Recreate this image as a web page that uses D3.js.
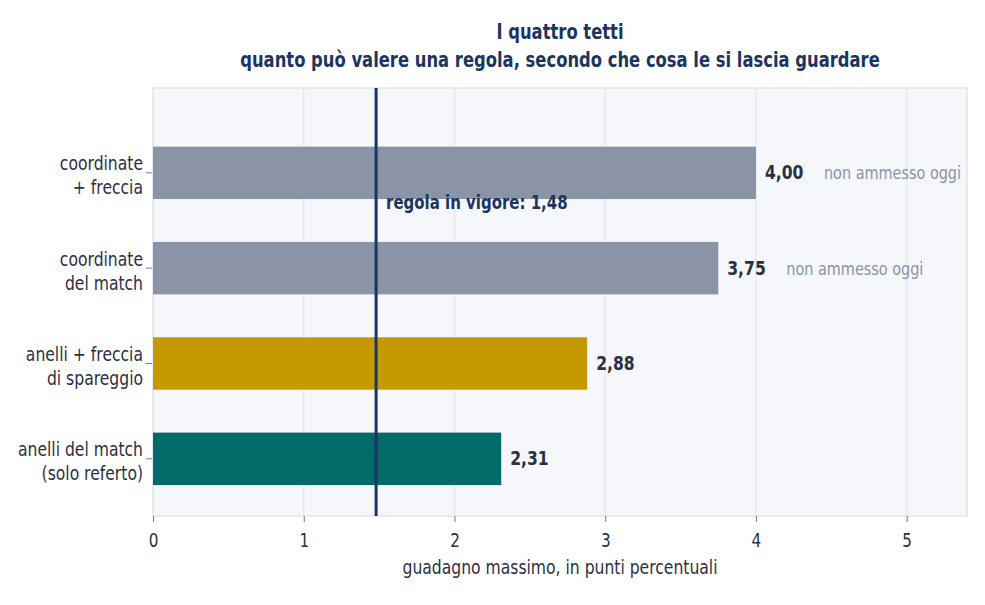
<!DOCTYPE html>
<html>
<head>
<meta charset="utf-8">
<script src="https://cdn.jsdelivr.net/npm/d3@7"></script>
<style>
  body { margin: 0; background: #fff; }
  svg text { font-family: "DejaVu Sans", sans-serif; }
</style>
</head>
<body>
<div id="chart"></div>
<script>
// data
var categories = [
  ["coordinate", "+ freccia"],
  ["coordinate", "del match"],
  ["anelli + freccia", "di spareggio"],
  ["anelli del match", "(solo referto)"]
];
var values = [4.00, 3.75, 2.88, 2.31];
var valueLabels = ["4,00", "3,75", "2,88", "2,31"];
var notes = ["non ammesso oggi", "non ammesso oggi", "", ""];
var barColors = ["#8b93a6", "#8b93a6", "#c49a00", "#006b68"];
var xTicks = [0, 1, 2, 3, 4, 5];
var ruleValue = 1.48;
var ruleLabel = "regola in vigore: 1,48";
var titleLines = ["I quattro tetti", "quanto può valere una regola, secondo che cosa le si lascia guardare"];
var xTitle = "guadagno massimo, in punti percentuali";

var W = 985, H = 605;
var pLeft = 153, pRight = 967, pTop = 88, pBottom = 516;
var SX = 0.78; // text is drawn narrow, like the reference

var svg = d3.select("#chart").append("svg")
  .attr("width", W)
  .attr("height", H);

var x = d3.scaleLinear().domain([0, 5.4]).range([pLeft, pRight]);
var y = d3.scaleLinear().domain([-0.89, 3.6]).range([pTop, pBottom]);
var barH = 0.55;

// squeeze text horizontally round its anchor
function squeeze(sel) {
  sel.each(function() {
    var t = d3.select(this);
    var tx = +t.attr("x") || 0;
    var ty = +t.attr("y") || 0;
    t.attr("x", 0).attr("y", 0)
      .attr("transform", "translate(" + tx + "," + ty + ") scale(" + SX + ",1)");
  });
}

// plot background
svg.append("rect")
  .attr("x", pLeft).attr("y", pTop)
  .attr("width", pRight - pLeft).attr("height", pBottom - pTop)
  .attr("fill", "#f5f7fb")
  .attr("stroke", "#dfe4ee")
  .attr("stroke-width", 1.5);

// grid
svg.selectAll("line.grid")
  .data(xTicks.slice(1))
  .enter()
    .append("line")
    .attr("class", "grid")
    .attr("x1", function(d) { return x(d); })
    .attr("x2", function(d) { return x(d); })
    .attr("y1", pTop)
    .attr("y2", pBottom)
    .attr("stroke", "#e2e5ec")
    .attr("stroke-width", 1.2);

// bars
svg.selectAll("rect.bar")
  .data(values)
  .enter()
    .append("rect")
    .attr("class", "bar")
    .attr("x", x(0))
    .attr("y", function(d, i) { return y(i - barH / 2); })
    .attr("width", function(d) { return x(d) - x(0); })
    .attr("height", y(barH) - y(0))
    .attr("fill", function(d, i) { return barColors[i]; });

// value labels
svg.selectAll("text.val")
  .data(values)
  .enter()
    .append("text")
    .attr("class", "val")
    .attr("x", function(d) { return x(d) + 9; })
    .attr("y", function(d, i) { return y(i) + 6.5; })
    .attr("font-size", 20)
    .attr("font-weight", "bold")
    .attr("fill", "#2b3142")
    .text(function(d, i) { return valueLabels[i]; })
    .call(squeeze);

svg.selectAll("text.note")
  .data(values)
  .enter()
    .append("text")
    .attr("class", "note")
    .attr("x", function(d) { return x(d) + 68; })
    .attr("y", function(d, i) { return y(i) + 6.5; })
    .attr("font-size", 18.5)
    .attr("fill", "#8a93a6")
    .text(function(d, i) { return notes[i]; })
    .call(squeeze);

// rule line
svg.append("line")
  .attr("x1", x(ruleValue)).attr("x2", x(ruleValue))
  .attr("y1", pTop).attr("y2", pBottom)
  .attr("stroke", "#1b3560")
  .attr("stroke-width", 3);

svg.append("text")
  .attr("x", x(ruleValue) + 10)
  .attr("y", 208.5)
  .attr("font-size", 19.2)
  .attr("font-weight", "bold")
  .attr("fill", "#1b3560")
  .text(ruleLabel)
  .call(squeeze);

// x axis
var xAxis = svg.append("g")
  .attr("transform", "translate(0," + pBottom + ")")
  .call(d3.axisBottom(x).tickValues(xTicks).tickFormat(d3.format("d")).tickSize(6).tickPadding(8));
xAxis.select(".domain").remove();
xAxis.selectAll("line").attr("stroke", "#777");
xAxis.selectAll("text")
  .attr("font-size", 19.5)
  .attr("fill", "#2b3142")
  .attr("font-family", null)
  .attr("dy", null)
  .attr("y", 31)
  .call(squeeze);

// y axis labels
var yLab = svg.selectAll("g.ylab")
  .data(categories)
  .enter()
    .append("g")
    .attr("class", "ylab")
    .attr("transform", function(d, i) { return "translate(" + pLeft + "," + y(i) + ")"; });
yLab.append("line")
  .attr("x1", -7).attr("x2", -1)
  .attr("stroke", "#777");
yLab.selectAll("text")
  .data(function(d) { return d; })
  .enter()
    .append("text")
    .attr("x", -10)
    .attr("y", function(d, j) { return j === 0 ? -2.5 : 21.5; })
    .attr("text-anchor", "end")
    .attr("font-size", 20)
    .attr("fill", "#2b3142")
    .text(function(d) { return d; })
    .call(squeeze);

// axis title
svg.append("text")
  .attr("x", (pLeft + pRight) / 2)
  .attr("y", 574)
  .attr("text-anchor", "middle")
  .attr("font-size", 20)
  .attr("fill", "#2b3142")
  .text(xTitle)
  .call(squeeze);

// title
svg.selectAll("text.title")
  .data(titleLines)
  .enter()
    .append("text")
    .attr("class", "title")
    .attr("x", (pLeft + pRight) / 2)
    .attr("y", function(d, i) { return 39 + i * 28; })
    .attr("text-anchor", "middle")
    .attr("font-size", 21)
    .attr("font-weight", "bold")
    .attr("fill", "#1b3560")
    .text(function(d) { return d; })
    .call(squeeze);
</script>
</body>
</html>
